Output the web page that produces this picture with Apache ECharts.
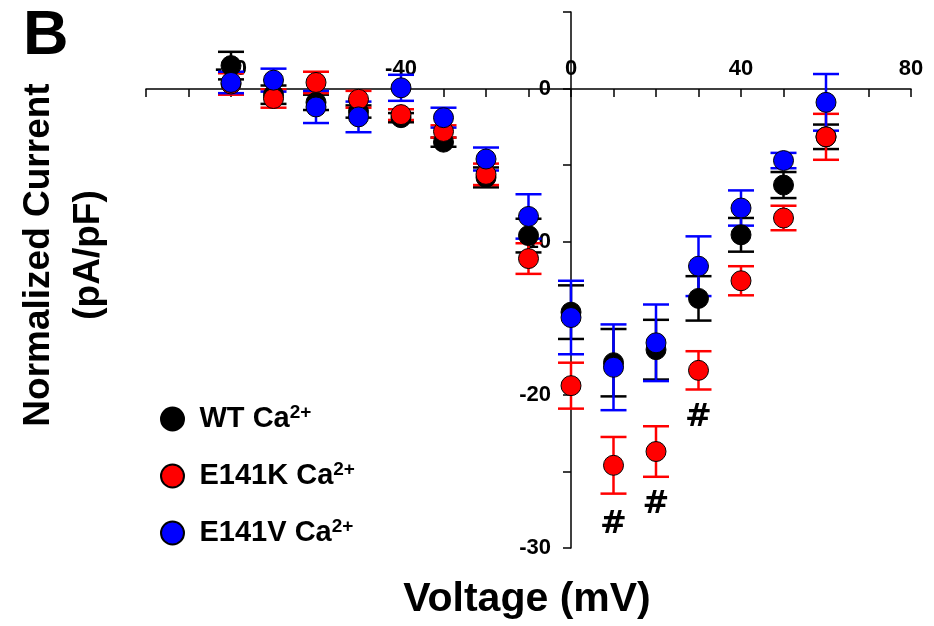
<!DOCTYPE html>
<html>
<head>
<meta charset="utf-8">
<script src="https://cdn.jsdelivr.net/npm/echarts@6/dist/echarts.min.js"></script>
<style>
  html, body { margin: 0; padding: 0; background: #fff; }
  #chart { width: 934px; height: 626px; }
</style>
</head>
<body>
<div id="chart"></div>
<script>
// voltage steps (mV)
const voltage = [-80, -70, -60, -50, -40, -30, -20, -10, 0, 10, 20, 30, 40, 50, 60];

// mean current (pA/pF) and error
const wtMean = [1.5, -0.4, -0.9, -1.5, -1.9, -3.5, -5.8, -9.6, -14.6, -17.9, -17.05, -13.7, -9.55, -6.3, -3.15];
const wtErr  = [0.9, 0.6, 0.5, 0.4, 0.3, 0.3, 0.65, 1.1, 1.75, 2.2, 1.95, 1.45, 1.1, 0.85, 0.8];

const kMean = [0.3, -0.65, 0.4, -0.7, -1.7, -2.8, -5.6, -11.1, -19.4, -24.6, -23.7, -18.4, -12.55, -8.45, -3.15];
const kErr  = [0.7, 0.6, 0.7, 0.55, 0.35, 0.4, 0.7, 1.0, 1.5, 1.85, 1.65, 1.25, 0.95, 0.8, 1.5];

const vMean = [0.4, 0.55, -1.2, -1.85, 0.05, -1.9, -4.6, -8.35, -14.95, -18.2, -16.6, -11.6, -7.8, -4.7, -0.9];
const vErr  = [0.7, 0.75, 1.05, 1.0, 0.85, 0.65, 0.75, 1.45, 2.4, 2.8, 2.5, 1.95, 1.15, 0.5, 1.85];

// significance marks (#)
const hashX = [10, 20, 30];
const hashY = [-28.5, -27.2, -21.5];

const xTickLabels = [-80, -40, 0, 40, 80];
const yTickLabels = [0, -10, -20, -30];

const FONT = "'Liberation Sans', Arial, sans-serif";

function errBars(name, color, mean, err) {
  return {
    name: name + ' err',
    type: 'custom',
    data: voltage.map((v, i) => [v, mean[i], err[i]]),
    renderItem: function (params, api) {
      const x = api.value(0), m = api.value(1), e = api.value(2);
      const top = api.coord([x, m + e]);
      const bot = api.coord([x, m - e]);
      const half = 13;
      const st = { stroke: color, lineWidth: 2.5 };
      return {
        type: 'group',
        children: [
          { type: 'line', shape: { x1: top[0], y1: top[1], x2: bot[0], y2: bot[1] }, style: st },
          { type: 'line', shape: { x1: top[0] - half, y1: top[1], x2: top[0] + half, y2: top[1] }, style: st },
          { type: 'line', shape: { x1: bot[0] - half, y1: bot[1], x2: bot[0] + half, y2: bot[1] }, style: st }
        ]
      };
    },
    silent: true
  };
}

function points(name, color, mean) {
  return {
    name: name,
    type: 'scatter',
    symbol: 'circle',
    symbolSize: 20,
    itemStyle: { color: color, borderColor: '#000', borderWidth: 1, opacity: 1 },
    data: voltage.map((v, i) => [v, mean[i]])
  };
}

const chart = echarts.init(document.getElementById('chart'));
chart.setOption({
  animation: false,
  grid: { left: 146, right: 23, top: 12, bottom: 78 },
  // x axis sits at y = 0, labels above, ticks below
  xAxis: {
    type: 'value',
    position: 'top',
    offset: -77,
    min: -100, max: 80, interval: 10,
    splitLine: { show: false },
    axisLine: { onZero: false, lineStyle: { color: '#000', width: 1.5 } },
    axisTick: { show: true, inside: true, length: 8, lineStyle: { color: '#000', width: 1.5 } },
    axisLabel: {
      margin: 9,
      fontFamily: FONT, fontWeight: 'bold', fontSize: 22, color: '#000',
      formatter: v => xTickLabels.includes(v) ? String(v) : ''
    }
  },
  // y axis sits at x = 0
  yAxis: {
    type: 'value',
    position: 'left',
    offset: -425,
    min: -30, max: 5, interval: 5,
    splitLine: { show: false },
    axisLine: { onZero: false, lineStyle: { color: '#000', width: 1.5 } },
    axisTick: { show: true, inside: false, length: 8, lineStyle: { color: '#000', width: 1.5 } },
    axisLabel: {
      margin: 20,
      fontFamily: FONT, fontWeight: 'bold', fontSize: 22, color: '#000',
      formatter: v => yTickLabels.includes(v) ? String(v) : ''
    }
  },
  legend: {
    orient: 'vertical',
    left: 155, top: 398,
    itemWidth: 44, itemHeight: 23,
    itemGap: 25,
    data: ['WT', 'E141K', 'E141V'],
    textStyle: {
      fontFamily: FONT, fontWeight: 'bold', fontSize: 29, color: '#000', lineHeight: 32,
      rich: {
        b: { fontFamily: FONT, fontWeight: 'bold', fontSize: 29, color: '#000', lineHeight: 32 },
        s: { fontFamily: FONT, fontWeight: 'bold', fontSize: 19, color: '#000', verticalAlign: 'top', lineHeight: 22 }
      }
    },
    formatter: n => '{b|' + n + ' Ca}{s|2+}'
  },
  graphic: [
    { type: 'text', left: 23, top: 5,
      style: { text: 'B', font: 'bold 63px ' + FONT, fill: '#000' } },
    { type: 'text', x: 64, y: 255, rotation: Math.PI / 2,
      style: { text: 'Normalized Current\n(pA/pF)', font: 'bold 37px ' + FONT, fill: '#000',
               align: 'center', verticalAlign: 'middle', lineHeight: 50 } },
    { type: 'text', x: 527, y: 600,
      style: { text: 'Voltage (mV)', font: 'bold 41px ' + FONT, fill: '#000',
               align: 'center', verticalAlign: 'middle' } }
  ],
  series: [
    errBars('WT', '#000', wtMean, wtErr),
    points('WT', '#000', wtMean),
    errBars('E141K', '#ff0000', kMean, kErr),
    points('E141K', '#ff0000', kMean),
    errBars('E141V', '#0000ff', vMean, vErr),
    points('E141V', '#0000ff', vMean),
    {
      name: 'sig',
      type: 'custom',
      data: hashX.map((x, i) => [x, hashY[i]]),
      renderItem: function (params, api) {
        const p = api.coord([api.value(0), api.value(1)]);
        return {
          type: 'text', x: p[0], y: p[1],
          style: { text: '#', font: "bold 32px 'DejaVu Sans', sans-serif", fill: '#000',
                   align: 'center', verticalAlign: 'middle' }
        };
      },
      silent: true
    }
  ]
});
</script>
</body>
</html>
